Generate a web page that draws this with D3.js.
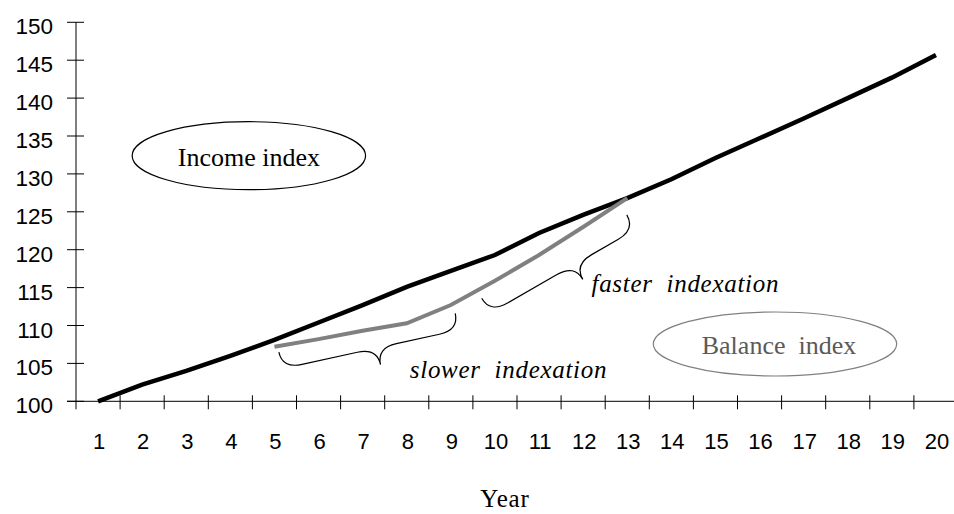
<!DOCTYPE html>
<html>
<head>
<meta charset="utf-8">
<script src="https://cdn.jsdelivr.net/npm/d3@7"></script>
<style>
  body { margin: 0; background: #fff; }
  svg { display: block; }
</style>
</head>
<body>
<svg id="chart"></svg>
<script>
// data
const years = d3.range(1, 21)
const incomeIndex = [100, 102.2, 104.0, 106.0, 108.1, 110.4, 112.7, 115.1, 117.2, 119.3,
                     122.2, 124.6, 126.8, 129.3, 132.1, 134.7, 137.3, 140.0, 142.7, 145.7]
const balanceYears = [5, 6, 7, 8, 9, 10, 11, 12, 13]
const balanceIndex = [107.2, 108.2, 109.3, 110.3, 112.7, 115.9, 119.3, 123.0, 126.8]
const yTicks = d3.range(100, 151, 5)

const W = 954, H = 514

const svg = d3.select('#chart')
              .attr('width', W)
              .attr('height', H)

// category axis: each year has a band of equal width
const x = d3.scaleLinear().domain([0.5, 20.5]).range([76, 958])
const y = d3.scaleLinear().domain([100, 150]).range([401.3, 22.3])

const serif = 'Liberation Serif, Times New Roman, serif'
const sans = 'Liberation Sans, Arial, sans-serif'

// y axis
svg.append('line')
   .attr('x1', x(0.5)).attr('x2', x(0.5))
   .attr('y1', y(150)).attr('y2', y(100) + 8)
   .attr('stroke', '#000').attr('stroke-width', 1)

svg.selectAll('.ytick')
   .data(yTicks)
   .join('line')
   .attr('class', 'ytick')
   .attr('x1', x(0.5) - 9).attr('x2', x(0.5) + 8)
   .attr('y1', d => y(d)).attr('y2', d => y(d))
   .attr('stroke', '#000').attr('stroke-width', 1)

svg.selectAll('.ylab')
   .data(yTicks)
   .join('text')
   .attr('class', 'ylab')
   .attr('x', 53)
   .attr('y', d => y(d) + 12)
   .attr('text-anchor', 'end')
   .style('font-family', sans)
   .style('font-size', '22.5px')
   .text(d => d)

// x axis
svg.append('line')
   .attr('x1', x(0.5) - 9).attr('x2', W)
   .attr('y1', y(100)).attr('y2', y(100))
   .attr('stroke', '#000').attr('stroke-width', 1)

svg.selectAll('.xtick')
   .data(d3.range(1.5, 20, 1))
   .join('line')
   .attr('class', 'xtick')
   .attr('x1', d => x(d)).attr('x2', d => x(d))
   .attr('y1', y(100) - 6).attr('y2', y(100) + 8)
   .attr('stroke', '#000').attr('stroke-width', 1)

svg.selectAll('.xlab')
   .data(years)
   .join('text')
   .attr('class', 'xlab')
   .attr('x', d => x(d) + 1)
   .attr('y', 448.5)
   .attr('text-anchor', 'middle')
   .style('font-family', sans)
   .style('font-size', '22px')
   .text(d => d)

svg.append('text')
   .attr('x', 505).attr('y', 507)
   .attr('text-anchor', 'middle')
   .style('font-family', serif)
   .style('font-size', '25px')
   .style('letter-spacing', '0.8px')
   .text('Year')

// lines
const line = d3.line().x(d => x(d[0])).y(d => y(d[1]))

svg.append('path')
   .datum(years.map((yr, i) => [yr, incomeIndex[i]]))
   .attr('d', line)
   .attr('fill', 'none')
   .attr('stroke', '#000')
   .attr('stroke-width', 4.5)

svg.append('path')
   .datum(balanceYears.map((yr, i) => [yr, balanceIndex[i]]))
   .attr('d', line)
   .attr('fill', 'none')
   .attr('stroke', '#808080')
   .attr('stroke-width', 4)

// ellipse labels
let ellipses = [
  {cx: 4.42, cy: 132.4, rx: 116.7, ry: 34, dx: 0, stroke: '#000', color: '#000', text: 'Income index'},
  {cx: 16.35, cy: 107.56, rx: 121.7, ry: 32, dx: 4, stroke: '#808080', color: '#5a5a5a', text: 'Balance\u00a0 index'}
]

let eg = svg.selectAll('.ell')
   .data(ellipses)
   .join('g')
   .attr('class', 'ell')
   .attr('transform', d => `translate(${x(d.cx)},${y(d.cy)})`)

eg.append('ellipse')
  .attr('rx', d => d.rx).attr('ry', d => d.ry)
  .attr('fill', 'none')
  .attr('stroke', d => d.stroke)
  .attr('stroke-width', 1.2)

eg.append('text')
  .attr('x', d => d.dx)
  .attr('y', 10)
  .attr('text-anchor', 'middle')
  .style('font-family', serif)
  .style('font-size', '26px')
  .style('fill', d => d.color)
  .text(d => d.text)

// curly braces
let brace = (p1, p2, h, t, w) => {
    const dx = p2[0] - p1[0], dy = p2[1] - p1[1]
    const L = Math.hypot(dx, dy)
    const ux = dx / L, uy = dy / L
    const nx = -uy, ny = ux
    const P = (s, d) => `${p1[0] + ux * s + nx * d},${p1[1] + uy * s + ny * d}`
    const m = t * L
    return `M${P(0, 0)} Q${P(0, h)} ${P(w, h)} L${P(m - w, h)} Q${P(m, h)} ${P(m, 2 * h)}`
         + ` Q${P(m, h)} ${P(m + w, h)} L${P(L - w, h)} Q${P(L, h)} ${P(L, 0)}`
}

let braces = [
  {from: [5.1, 106.5], to: [9.1, 111.6], t: 0.535},
  {from: [9.7, 113.6], to: [12.99, 124.6], t: 0.58}
]

svg.selectAll('.brace')
   .data(braces)
   .join('path')
   .attr('class', 'brace')
   .attr('d', d => brace([x(d.from[0]), y(d.from[1])], [x(d.to[0]), y(d.to[1])], 17, d.t, 20))
   .attr('fill', 'none')
   .attr('stroke', '#000')
   .attr('stroke-width', 1.2)

let notes = [
  {x: 8.07, y: 103.03, text: 'slower\u00a0 indexation'},
  {x: 12.19, y: 114.46, text: 'faster\u00a0 indexation'}
]

svg.selectAll('.note')
   .data(notes)
   .join('text')
   .attr('class', 'note')
   .attr('x', d => x(d.x))
   .attr('y', d => y(d.y))
   .style('font-family', serif)
   .style('font-style', 'italic')
   .style('font-size', '25px')
   .style('letter-spacing', '0.7px')
   .text(d => d.text)
</script>
</body>
</html>
